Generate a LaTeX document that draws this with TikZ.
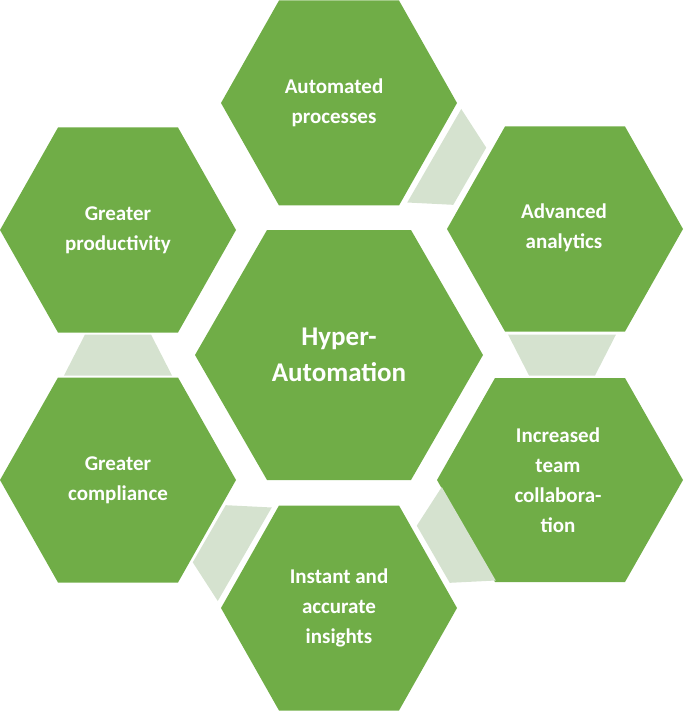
\documentclass[tikz,border=0pt]{standalone}
\usepackage{fontspec}
\setmainfont{Carlito}
\definecolor{hexgreen}{HTML}{70AD47}
\definecolor{conn}{HTML}{D5E2CF}
\tikzset{
  pics/hexa/.style n args={3}{code={\fill[hexgreen] (-#1,0)--(-#2,#3)--(#2,#3)--(#1,0)--(#2,-#3)--(-#2,-#3)--cycle;}},
  pics/trap/.style={code={\fill[conn] (-20.5,-54)--(-20.5,54)--(20.5,33)--(20.5,-33)--cycle;}},
  lbl/.style={text=white,font=\bfseries\fontsize{21}{30}\selectfont,align=center},
  biglbl/.style={text=white,font=\bfseries\fontsize{27}{36}\selectfont,align=center}
}
\begin{document}
\begin{tikzpicture}[x=1pt,y=-1pt]
\useasboundingbox (0,0) rectangle (684,711);
\pic at (339,355) {hexa={144}{72}{125}};
\pic at (339,103) {hexa={118}{60}{102.5}};
\pic at (565,229) {hexa={118}{60}{102.5}};
\pic at (560,480) {hexa={123}{65}{102}};
\pic at (339,608) {hexa={118}{60}{102.5}};
\pic at (118,480) {hexa={118}{60}{102.5}};
\pic at (118,230) {hexa={118}{60}{102.5}};
\pic[rotate=-30] at (452,166) {trap};
\pic[rotate=-90] at (562,355) {trap};
\pic[rotate=-150] at (451,544) {trap};
\pic[rotate=150] at (227,544) {trap};
\pic[rotate=90] at (118,355) {trap};
\node[biglbl] (hyper) at (339,355) {Hyper-\\Automation};
\node[lbl] (auto) at (334,103) {Automated\\processes};
\node[lbl] (adv) at (564,228) {Advanced\\analytics};
\node[lbl] (team) at (558,480) {Increased\\team\\collabora-\\tion};
\node[lbl] (inst) at (339,608) {Instant and\\accurate\\insights};
\node[lbl] (comp) at (118,480) {Greater\\compliance};
\node[lbl] (prod) at (118,230) {Greater\\productivity};
\end{tikzpicture}
\end{document}
